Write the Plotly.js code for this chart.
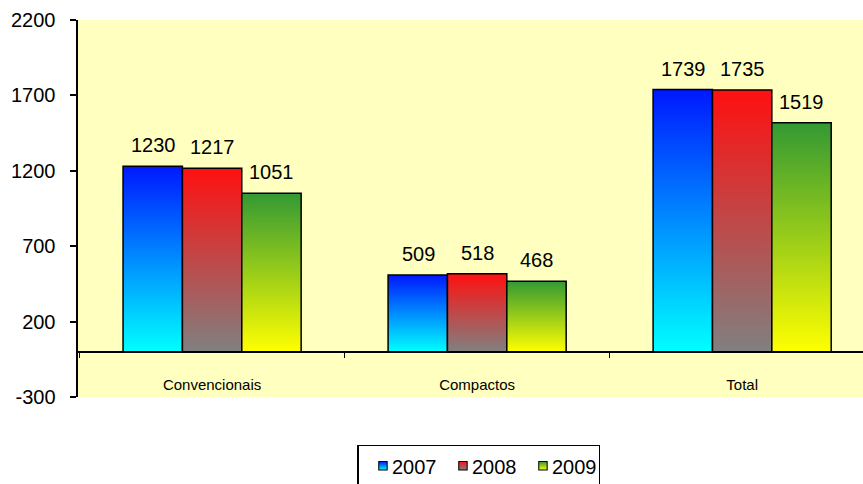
<!DOCTYPE html>
<html><head><meta charset="utf-8">
<script src="https://cdn.plot.ly/plotly-3.0.1.min.js"></script>
<style>html,body{margin:0;padding:0;background:#fff;}#chart{width:863px;height:484px;}</style>
</head><body><div id="chart"></div>
<script>
const categories = ['Convencionais', 'Compactos', 'Total'];
const seriesNames = ['2007', '2008', '2009'];
const values2007 = [1230, 509, 1739];
const values2008 = [1217, 518, 1735];
const values2009 = [1051, 468, 1519];
const yTickVals = [-300, 200, 700, 1200, 1700, 2200];

const allValues = [values2007, values2008, values2009];
const gradients = [
  ['#0018FF', '#00FFFF'],
  ['#FF1010', '#808080'],
  ['#339933', '#FFFF00']
];
const baseColors = ['#00A0FF', '#C05050', '#A0C020'];
const FONT = 'Liberation Sans, Arial, sans-serif';

const traces = allValues.map((vals, i) => ({
  type: 'bar', name: seriesNames[i], x: categories, y: vals,
  marker: {color: baseColors[i], line: {color: '#000', width: 1.5}},
  hoverinfo: 'none'
}));

const barPx = 59;
const annotations = [];
allValues.forEach((vals, i) => {
  vals.forEach((v, j) => {
    annotations.push({
      x: categories[j], y: v, xref: 'x', yref: 'y', text: String(v),
      showarrow: false, yanchor: 'bottom', yshift: 8, xshift: (i - 1) * barPx,
      font: {family: FONT, size: 20, color: '#000'}
    });
  });
});

const layout = {
  width: 863, height: 484,
  margin: {l: 78, r: 0, t: 20, b: 87},
  paper_bgcolor: '#FFFFFF', plot_bgcolor: '#FFFFC0',
  font: {family: FONT, color: '#000'},
  barmode: 'group', bargap: 0.328, bargroupgap: 0,
  showlegend: true,
  legend: {
    orientation: 'h', xref: 'container', yref: 'container',
    x: 0.555, xanchor: 'center', y: 0.081, yanchor: 'top',
    bordercolor: '#000', borderwidth: 1.5, bgcolor: '#fff',
    font: {family: FONT, size: 20, color: '#000'},
    itemwidth: 30, entrywidth: 35, tracegroupgap: 0
  },
  xaxis: {
    type: 'category', range: [-0.506, 2.456],
    anchor: 'free', position: 0.12,
    showline: true, linecolor: '#000', linewidth: 2,
    ticks: 'outside', tickson: 'boundaries', ticklen: 5, tickcolor: '#000', tickwidth: 1,
    ticklabelstandoff: 19,
    tickfont: {family: FONT, size: 15, color: '#000'},
    showgrid: false, zeroline: false, fixedrange: true
  },
  yaxis: {
    range: [-300, 2200], tickvals: yTickVals, ticktext: yTickVals.map(String),
    showline: true, linecolor: '#000', linewidth: 2.5,
    ticks: 'outside', ticklen: 6, tickcolor: '#000', tickwidth: 2,
    ticklabelstandoff: 10,
    tickfont: {family: FONT, size: 20, color: '#000'},
    showgrid: false, zeroline: false, fixedrange: true
  },
  annotations: annotations
};

function applyGradients(gd) {
  const svg = gd.querySelector('svg.main-svg');
  const ns = 'http://www.w3.org/2000/svg';
  let defs = svg.querySelector('defs');
  if (!defs) { defs = document.createElementNS(ns, 'defs'); svg.insertBefore(defs, svg.firstChild); }
  gradients.forEach((g, i) => {
    const lg = document.createElementNS(ns, 'linearGradient');
    lg.setAttribute('id', 'barGrad' + i);
    lg.setAttribute('x1', '0'); lg.setAttribute('y1', '0');
    lg.setAttribute('x2', '0'); lg.setAttribute('y2', '1');
    [[0, g[0]], [1, g[1]]].forEach(([o, c]) => {
      const s = document.createElementNS(ns, 'stop');
      s.setAttribute('offset', o); s.setAttribute('stop-color', c);
      lg.appendChild(s);
    });
    defs.appendChild(lg);
  });
  gd.querySelectorAll('.barlayer .trace.bars').forEach((t, i) => {
    t.querySelectorAll('.point path').forEach(p => { p.style.fill = 'url(#barGrad' + i + ')'; });
  });
  gd.querySelectorAll('.legend .traces').forEach((t, i) => {
    t.querySelectorAll('.legendpoints').forEach(g => {
      const old = g.getAttribute('transform') || '';
      g.setAttribute('transform', old + ' translate(4,0)');
    });
    t.querySelectorAll('.legendpoints path').forEach(p => {
      p.style.fill = 'url(#barGrad' + i + ')';
      const old = p.getAttribute('transform') || '';
      p.setAttribute('transform', old + ' scale(0.7)');
    });
    t.querySelectorAll('.legendtext').forEach(tx => {
      const old = tx.getAttribute('transform') || '';
      tx.setAttribute('transform', old + ' translate(-7,0)');
    });
  });
}

Plotly.newPlot('chart', traces, layout, {displayModeBar: false, staticPlot: true})
  .then(applyGradients);
</script>
</body></html>
